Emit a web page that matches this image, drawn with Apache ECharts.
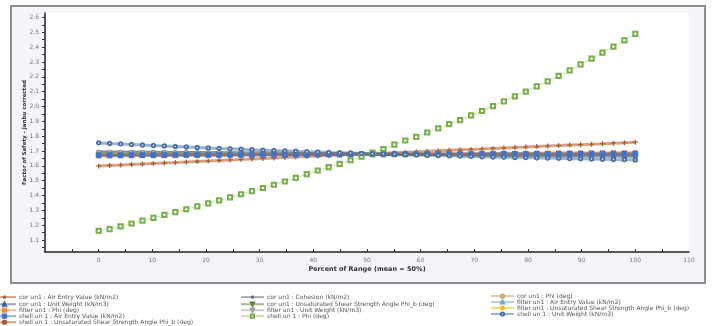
<!DOCTYPE html>
<html>
<head>
<meta charset="utf-8">
<script src="https://cdn.jsdelivr.net/npm/echarts@6/dist/echarts.min.js"></script>
<style>html,body{margin:0;padding:0;background:#fff;}#c{width:712px;height:326px;}</style>
</head>
<body>
<div id="c"></div>
<script>
const percent = [0,2.04,4.08,6.12,8.16,10.2,12.24,14.29,16.33,18.37,20.41,22.45,24.49,26.53,28.57,30.61,32.65,34.69,36.73,38.78,40.82,42.86,44.9,46.94,48.98,51.02,53.06,55.1,57.14,59.18,61.22,63.27,65.31,67.35,69.39,71.43,73.47,75.51,77.55,79.59,81.63,83.67,85.71,87.76,89.8,91.84,93.88,95.92,97.96,100];

const corAirEntry = [1.600,1.603,1.606,1.610,1.613,1.617,1.620,1.623,1.627,1.630,1.633,1.637,1.640,1.643,1.647,1.650,1.653,1.657,1.660,1.663,1.667,1.670,1.673,1.676,1.679,1.682,1.686,1.689,1.692,1.695,1.699,1.702,1.705,1.708,1.711,1.714,1.718,1.721,1.724,1.727,1.730,1.734,1.737,1.740,1.743,1.746,1.749,1.753,1.756,1.760];
const corCohesion = [1.692,1.692,1.691,1.691,1.690,1.690,1.689,1.689,1.688,1.688,1.687,1.687,1.686,1.686,1.685,1.685,1.684,1.684,1.683,1.683,1.682,1.682,1.681,1.681,1.680,1.680,1.679,1.679,1.678,1.678,1.677,1.677,1.676,1.676,1.675,1.675,1.674,1.674,1.673,1.673,1.672,1.672,1.671,1.671,1.670,1.670,1.669,1.669,1.668,1.668];
const corPhi = [1.688,1.688,1.687,1.687,1.687,1.686,1.686,1.686,1.685,1.685,1.685,1.684,1.684,1.684,1.683,1.683,1.683,1.682,1.682,1.682,1.681,1.681,1.681,1.680,1.680,1.680,1.679,1.679,1.679,1.678,1.678,1.678,1.677,1.677,1.677,1.676,1.676,1.676,1.675,1.675,1.675,1.674,1.674,1.674,1.673,1.673,1.673,1.672,1.672,1.672];
const corUnitWeight = [1.695,1.694,1.694,1.693,1.693,1.692,1.691,1.691,1.690,1.690,1.689,1.688,1.688,1.687,1.687,1.686,1.685,1.685,1.684,1.684,1.683,1.682,1.682,1.681,1.681,1.680,1.679,1.679,1.678,1.678,1.677,1.676,1.676,1.675,1.675,1.674,1.673,1.673,1.672,1.672,1.671,1.670,1.670,1.669,1.669,1.668,1.667,1.667,1.666,1.665];
const corUnsat = [1.690,1.690,1.689,1.689,1.688,1.688,1.688,1.687,1.687,1.686,1.686,1.686,1.685,1.685,1.684,1.684,1.683,1.683,1.683,1.682,1.682,1.681,1.681,1.681,1.680,1.680,1.679,1.679,1.678,1.678,1.678,1.677,1.677,1.676,1.676,1.676,1.675,1.675,1.674,1.674,1.673,1.673,1.673,1.672,1.672,1.671,1.671,1.671,1.670,1.670];
const filterAirEntry = [1.676,1.676,1.676,1.676,1.676,1.677,1.677,1.677,1.677,1.677,1.677,1.678,1.678,1.678,1.678,1.678,1.678,1.679,1.679,1.679,1.679,1.679,1.679,1.680,1.680,1.680,1.680,1.680,1.680,1.681,1.681,1.681,1.681,1.681,1.681,1.682,1.682,1.682,1.682,1.682,1.682,1.683,1.683,1.683,1.683,1.683,1.683,1.684,1.684,1.684];
const filterPhi = [1.667,1.667,1.668,1.668,1.669,1.669,1.670,1.670,1.671,1.671,1.672,1.672,1.673,1.673,1.674,1.674,1.675,1.675,1.676,1.676,1.677,1.677,1.678,1.678,1.679,1.679,1.680,1.680,1.681,1.681,1.682,1.682,1.683,1.683,1.684,1.684,1.685,1.685,1.686,1.686,1.687,1.687,1.688,1.688,1.689,1.689,1.689,1.690,1.690,1.690];
const filterUnitWeight = [1.691,1.690,1.690,1.689,1.689,1.688,1.688,1.687,1.687,1.686,1.686,1.685,1.685,1.684,1.684,1.683,1.683,1.683,1.682,1.682,1.681,1.681,1.680,1.680,1.680,1.679,1.679,1.678,1.678,1.677,1.677,1.676,1.676,1.675,1.675,1.674,1.674,1.673,1.673,1.672,1.672,1.671,1.671,1.670,1.670,1.669,1.669,1.668,1.667,1.666];
const filterUnsat = [1.679,1.679,1.679,1.679,1.679,1.679,1.679,1.679,1.679,1.679,1.679,1.679,1.679,1.679,1.679,1.679,1.679,1.680,1.680,1.680,1.680,1.680,1.680,1.680,1.680,1.680,1.680,1.680,1.680,1.680,1.680,1.680,1.680,1.680,1.681,1.681,1.681,1.681,1.681,1.681,1.681,1.681,1.681,1.681,1.681,1.681,1.681,1.681,1.681,1.681];
const shellAirEntry = [1.672,1.672,1.672,1.673,1.673,1.673,1.673,1.673,1.674,1.674,1.674,1.674,1.675,1.675,1.675,1.675,1.676,1.676,1.676,1.676,1.677,1.677,1.677,1.677,1.678,1.678,1.678,1.678,1.678,1.679,1.679,1.679,1.679,1.679,1.679,1.680,1.680,1.680,1.680,1.680,1.680,1.680,1.681,1.681,1.681,1.681,1.681,1.681,1.681,1.681];
const shellPhi = [1.163,1.174,1.192,1.212,1.232,1.250,1.270,1.289,1.308,1.328,1.347,1.368,1.388,1.409,1.430,1.451,1.473,1.495,1.520,1.544,1.569,1.592,1.614,1.638,1.662,1.690,1.714,1.743,1.771,1.796,1.825,1.853,1.881,1.909,1.940,1.970,2.003,2.035,2.068,2.101,2.136,2.170,2.207,2.244,2.284,2.322,2.363,2.403,2.445,2.490];
const shellUnitWeight = [1.755,1.751,1.748,1.744,1.741,1.737,1.734,1.730,1.727,1.724,1.721,1.718,1.715,1.712,1.709,1.706,1.703,1.701,1.698,1.696,1.694,1.691,1.689,1.687,1.684,1.682,1.680,1.678,1.676,1.674,1.672,1.670,1.668,1.666,1.664,1.662,1.660,1.659,1.657,1.656,1.654,1.653,1.651,1.649,1.648,1.646,1.645,1.643,1.642,1.640];
const shellUnsat = [1.674,1.674,1.674,1.674,1.674,1.674,1.674,1.675,1.675,1.675,1.675,1.675,1.675,1.675,1.675,1.676,1.676,1.676,1.676,1.676,1.676,1.676,1.676,1.676,1.677,1.677,1.677,1.677,1.677,1.677,1.677,1.677,1.677,1.677,1.677,1.678,1.678,1.678,1.678,1.678,1.678,1.678,1.678,1.678,1.678,1.678,1.678,1.678,1.678,1.678];

const yTickLabels = [1.1,1.2,1.3,1.4,1.5,1.6,1.7,1.8,1.9,2.0,2.1,2.2,2.3,2.4,2.5,2.6];
const xTickLabels = [0,10,20,30,40,50,60,70,80,90,100,110];

const PLUS = 'path://M0,5L10,5M5,0L5,10';
const INVTRI = 'path://M0,0L10,0L5,9Z';

const seriesDefs = [
  {name:'cor un1 : Air Entry Value (kN/m2)', data:corAirEntry, color:'#b05a26', symbol:PLUS, size:5, stroke:true},
  {name:'cor un1 : Cohesion (kN/m2)', data:corCohesion, color:'#6a6a6a', symbol:PLUS, size:4, stroke:true},
  {name:'cor un1 : Phi (deg)', data:corPhi, color:'#c2a862', symbol:'emptyCircle', size:3.5},
  {name:'cor un1 : Unit Weight (kN/m3)', data:corUnitWeight, color:'#3b5b98', symbol:'triangle', size:4},
  {name:'cor un1 : Unsaturated Shear Strength Angle Phi_b (deg)', data:corUnsat, color:'#55853a', symbol:INVTRI, size:4},
  {name:'filter un1 : Air Entry Value (kN/m2)', data:filterAirEntry, color:'#78a4da', symbol:'triangle', size:4},
  {name:'filter un1 : Phi (deg)', data:filterPhi, color:'#f08a3a', symbol:'rect', size:4},
  {name:'filter un1 : Unit Weight (kN/m3)', data:filterUnitWeight, color:'#a2a2a2', symbol:INVTRI, size:4},
  {name:'filter un1 : Unsaturated Shear Strength Angle Phi_b (deg)', data:filterUnsat, color:'#f2bd1e', symbol:'circle', size:4},
  {name:'shell un 1 : Air Entry Value (kN/m2)', data:shellAirEntry, color:'#3a74d4', symbol:'rect', size:5},
  {name:'shell un 1 : Phi (deg)', data:shellPhi, color:'#78b048', symbol:'emptyRect', size:4.2, thin:true},
  {name:'shell un 1 : Unit Weight (kN/m3)', data:shellUnitWeight, color:'#4a72a6', symbol:'emptyCircle', size:3.5},
  {name:'shell un 1 : Unsaturated Shear Strength Angle Phi_b (deg)', data:shellUnsat, color:'#a65a32', symbol:'none', size:4}
];

const series = seriesDefs.map(d => ({
  type:'line',
  name:d.name,
  data:d.data.map((v,i)=>[percent[i], v]),
  symbol:d.symbol,
  symbolSize:d.size,
  showAllSymbol:true,
  animation:false,
  lineStyle:{color:d.color, width:d.thin?1:3, opacity:d.thin?0.4:0.55},
  itemStyle:{color:d.stroke?'none':d.color, borderColor:d.color, borderWidth:d.stroke?1.2:(d.thin?0.7:0.9), opacity:1},
  emphasis:{disabled:true}
}));

const names = seriesDefs.map(d=>d.name);
const col1 = [names[0],names[3],names[6],names[9],names[12]];
const col2 = [names[1],names[4],names[7],names[10]];
const col3 = [names[2],names[5],names[8],names[11]];

function mkLegend(data, left){
  return {
    data:data, left:left, top:293, orient:'vertical', height:40, width:260,
    itemWidth:23, itemHeight:4, itemGap:0, padding:0,
    selectedMode:false,
    textStyle:{fontSize:6, lineHeight:5.5, color:'#555', fontFamily:'DejaVu Sans', padding:[0,0,0,-2]}
  };
}

const yTicks = [1.05,1.1,1.15,1.2,1.25,1.3,1.35,1.4,1.45,1.5,1.55,1.6,1.65,1.7,1.75,1.8,1.85,1.9,1.95,2.0,2.05,2.1,2.15,2.2,2.25,2.3,2.35,2.4,2.45,2.5,2.55,2.6];
const xTicks = [-5,0,5,10,15,20,25,30,35,40,45,50,55,60,65,70,75,80,85,90,95,100,105];

const chart = echarts.init(document.getElementById('c'), null, {renderer:'canvas'});
chart.setOption({
  animation:false,
  backgroundColor:'#ffffff',
  graphic:[{type:'rect', z:-100, silent:true, shape:{x:11, y:6, width:694, height:277},
    style:{fill:'#f3f5f9', stroke:'#8c8c8c', lineWidth:2}}],
  grid:{left:45, right:23, top:13, bottom:74, show:true, backgroundColor:'#ffffff', borderWidth:0, z:0},
  legend:[mkLegend(col1,-8), mkLegend(col2,240), mkLegend(col3,490)],
  xAxis:{
    type:'value', min:-10, max:110,
    name:'Percent of Range (mean = 50%)', nameLocation:'middle', nameGap:14, nameMoveOverlap:false,
    nameTextStyle:{fontSize:6.5, fontWeight:'bold', color:'#333', fontFamily:'DejaVu Sans'},
    axisLine:{onZero:false, lineStyle:{color:'#222', width:1.5}},
    axisTick:{show:true, inside:true, length:3, customValues:xTicks, lineStyle:{color:'#333'}},
    axisLabel:{customValues:xTickLabels, fontSize:6, color:'#777', margin:5, fontFamily:'DejaVu Sans'},
    splitLine:{show:false}
  },
  yAxis:{
    type:'value', min:1.02, max:2.63,
    name:'Factor of Safety - Janbu corrected', nameLocation:'middle', nameGap:17, nameRotate:90, nameMoveOverlap:false,
    nameTextStyle:{fontSize:5.5, fontWeight:'bold', color:'#333', fontFamily:'DejaVu Sans'},
    axisLine:{show:true, onZero:false, lineStyle:{color:'#222', width:1.5}},
    axisTick:{show:true, length:3, customValues:yTicks, lineStyle:{color:'#333'}},
    axisLabel:{customValues:yTickLabels, fontSize:6, color:'#777', margin:6, fontFamily:'DejaVu Sans',
      formatter:v=>v.toFixed(1)},
    splitLine:{show:false}
  },
  series:series
});
</script>
</body>
</html>
